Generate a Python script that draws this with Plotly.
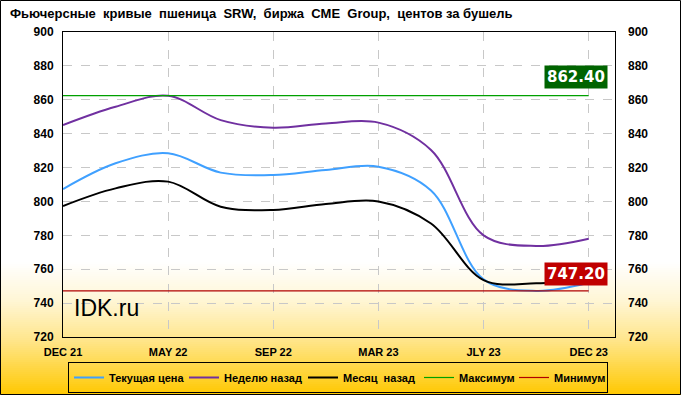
import plotly.graph_objects as go

# ---- data ----
contracts = ["DEC 21", "MAR 22", "MAY 22", "JLY 22", "SEP 22", "DEC 22",
             "MAR 23", "MAY 23", "JLY 23", "SEP 23", "DEC 23"]
current = [807.3, 822.5, 828.4, 817.0, 815.6, 818.6, 820.5, 806.5, 754.0, 747.2, 752.0]
week_ago = [845.1, 855.9, 862.4, 848.0, 843.5, 846.0, 846.5, 830.4, 780.0, 773.7, 778.0]
month_ago = [797.3, 807.7, 811.7, 796.9, 795.0, 798.5, 800.0, 787.0, 753.6, 751.7, 754.0]
max_value = 862.40
min_value = 747.20
y_ticks = [720, 740, 760, 780, 800, 820, 840, 860, 880, 900]
title_text = "Фьючерсные  кривые  пшеница  SRW,  биржа  CME  Group,  центов за бушель"
series_names = ["Текущая цена", "Неделю назад", "Месяц  назад", "Максимум", "Минимум"]

# ---- layout geometry ----
W, H = 681, 395
L, R, T, B = 63, 66, 32, 58
PW, PH = W - L - R, H - T - B

def px(x):
    return (x - L) / PW

def py(y):
    return (H - B - y) / PH

xs = list(range(len(contracts)))
FONT = "Liberation Sans, Arial"
legend_widths = [70, 74, 71, 50, 48]

fig = go.Figure()
fig.add_trace(go.Scatter(x=xs, y=current, mode="lines", name=series_names[0],
                         legendwidth=legend_widths[0],
                         line=dict(color="#3fa0ff", width=2, shape="spline", smoothing=1.0)))
fig.add_trace(go.Scatter(x=xs, y=week_ago, mode="lines", name=series_names[1],
                         legendwidth=legend_widths[1],
                         line=dict(color="#7030a0", width=2, shape="spline", smoothing=1.0)))
fig.add_trace(go.Scatter(x=xs, y=month_ago, mode="lines", name=series_names[2],
                         legendwidth=legend_widths[2],
                         line=dict(color="#000000", width=2, shape="spline", smoothing=1.0)))
fig.add_trace(go.Scatter(x=[xs[0], xs[-1]], y=[max_value, max_value], mode="lines",
                         name=series_names[3], legendwidth=legend_widths[3],
                         line=dict(color="#00a000", width=1.2)))
fig.add_trace(go.Scatter(x=[xs[0], xs[-1]], y=[min_value, min_value], mode="lines",
                         name=series_names[4], legendwidth=legend_widths[4],
                         line=dict(color="#b00000", width=1.2)))
# invisible trace to activate the right axis
fig.add_trace(go.Scatter(x=[xs[0]], y=[y_ticks[0]], yaxis="y2", mode="markers",
                         marker=dict(opacity=0), showlegend=False, hoverinfo="skip"))

# ---- background gradient (paper) ----
shapes = []
stops = [(262, (255, 255, 255)), (300, (255, 246, 214)), (340, (255, 230, 140)),
         (395, (255, 200, 0))]
y = stops[0][0]
step = 2
while y < H:
    yc = y + step / 2
    for i in range(len(stops) - 1):
        if stops[i][0] <= yc <= stops[i + 1][0]:
            t = (yc - stops[i][0]) / (stops[i + 1][0] - stops[i][0])
            c = tuple(round(stops[i][1][k] + t * (stops[i + 1][1][k] - stops[i][1][k])) for k in range(3))
            break
    shapes.append(dict(type="rect", xref="paper", yref="paper", layer="below",
                       x0=px(0), x1=px(W), y0=py(y + step + 0.5), y1=py(y),
                       fillcolor="rgb(%d,%d,%d)" % c, line=dict(width=0)))
    y += step
# outer border
shapes.append(dict(type="rect", xref="paper", yref="paper", layer="above",
                   x0=px(0.5), x1=px(W - 0.5), y0=py(H - 0.5), y1=py(0.5),
                   line=dict(color="black", width=1)))

annotations = [
    dict(xref="paper", yref="paper", x=px(8), y=py(13), xanchor="left", yanchor="middle",
         text=title_text, showarrow=False,
         font=dict(family=FONT, size=13, color="black", weight="bold")),
    dict(xref="paper", yref="paper", x=px(72), y=py(308), xanchor="left", yanchor="middle",
         text="IDK.ru", showarrow=False,
         font=dict(family="Liberation Sans, Arial", size=23, color="black")),
    dict(x=10.36, y=max_value, xanchor="right", yanchor="middle", yshift=19,
         text="%.2f" % max_value, showarrow=False, bgcolor="#006400", borderpad=2,
         font=dict(family="DejaVu Sans", size=15, color="white", weight="bold")),
    dict(x=10.36, y=min_value, xanchor="right", yanchor="middle", yshift=17,
         text="%.2f" % min_value, showarrow=False, bgcolor="#c00000", borderpad=2,
         font=dict(family="DejaVu Sans", size=15, color="white", weight="bold")),
]

tickfont = dict(family=FONT, size=12, color="black", weight="bold")

fig.update_layout(
    width=W, height=H, autosize=False,
    margin=dict(l=L, r=R, t=T, b=B, pad=0, autoexpand=False),
    paper_bgcolor="white", plot_bgcolor="rgba(0,0,0,0)",
    showlegend=True,
    legend=dict(orientation="h", x=px(68), y=py(362), xanchor="left", yanchor="top",
                bgcolor="rgba(0,0,0,0)", bordercolor="black", borderwidth=1,
                font=dict(family=FONT, size=11, color="black", weight="bold"),
                tracegroupgap=0, itemwidth=30),
    xaxis=dict(range=[0, 10.5], tickvals=xs[::2], ticktext=contracts[::2],
               showgrid=True, gridcolor="#c8c8c8", griddash="dash", gridwidth=1,
               showline=True, linecolor="black", linewidth=1, mirror=True,
               zeroline=False, ticks="", ticklabelstandoff=5,
               tickfont=dict(family=FONT, size=11, color="black", weight="bold")),
    yaxis=dict(range=[720, 900], tickvals=y_ticks, showgrid=True, gridcolor="#c8c8c8",
               griddash="dash", gridwidth=1, showline=True, linecolor="black", linewidth=1,
               mirror=True, zeroline=False, ticks="", tickfont=tickfont, ticklabelstandoff=6),
    yaxis2=dict(range=[720, 900], tickvals=y_ticks, overlaying="y", side="right",
                showgrid=False, zeroline=False, showline=False, ticks="", tickfont=tickfont,
                ticklabelstandoff=12),
    shapes=shapes,
    annotations=annotations,
)

fig.write_html("out.html", config={"displayModeBar": False},
               post_script="document.body.style.margin='0';")
